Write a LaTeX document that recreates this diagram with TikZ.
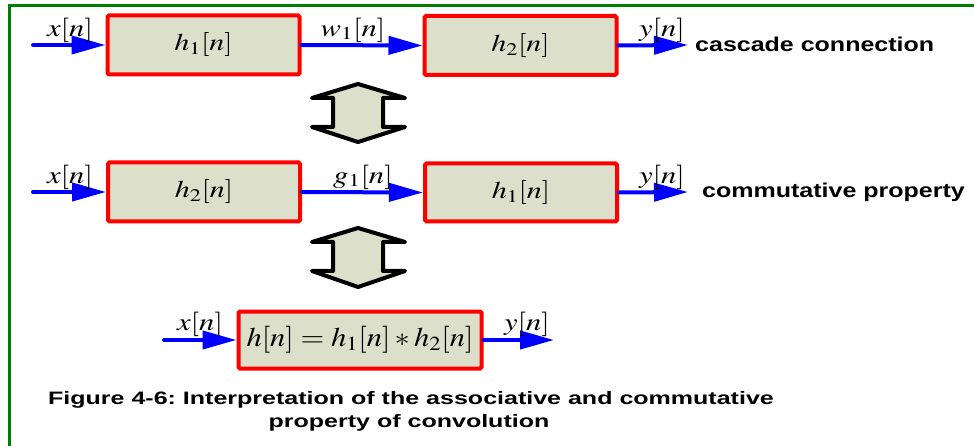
\documentclass[tikz,border=0pt]{standalone}
\usepackage{mathptmx}
\usepackage{fontspec}
\setmainfont{Liberation Serif}
\setsansfont{Liberation Sans}
\usepackage{graphicx}
\usetikzlibrary{arrows.meta}
\definecolor{boxfill}{RGB}{220,224,202}
\definecolor{frameg}{RGB}{0,128,0}
\definecolor{sigblue}{RGB}{0,0,255}
\newcommand{\sx}[1]{\scalebox{1.25}[1]{#1}}
\frenchspacing
\tikzset{
  blk/.style={draw=red, fill=boxfill, line width=4pt, rounded corners=1.5pt,
    inner sep=0pt, font=\fontsize{24}{26}\selectfont},
  sig/.style={draw=sigblue, line width=4pt, line cap=round,
    -{Triangle[length=34pt,width=18pt]}},
  lbl/.style={inner sep=0pt, font=\fontsize{24.5}{26}\selectfont},
  side/.style={inner sep=0pt, anchor=west, font=\fontsize{20}{22}\selectfont\sffamily\bfseries},
  captext/.style={inner sep=0pt, font=\fontsize{18}{20}\selectfont\sffamily\bfseries},
  dbl/.style={draw=black, fill=boxfill, line width=4pt, line join=round},
}
\begin{document}
\begin{tikzpicture}[x=1pt,y=-1pt]
\useasboundingbox (0,0) rectangle (974,446);
\fill[white] (0,0) rectangle (974,446);
% frame
\draw[frameg, line width=3pt] (9.5,446) -- (9.5,5.5) -- (974,5.5);

% row 1
\node[blk, minimum width=192pt, minimum height=59pt] (A) at (203.5,45) {\sx{$h_1[n]$}};
\node[blk, minimum width=192pt, minimum height=59pt] (B) at (520.5,45.5) {\sx{$h_2[n]$}};
\coordinate (in1) at (33,45);
\coordinate (out1) at (688,45);
\draw[sig] (in1) -- (A.west);
\draw[sig] (A.east) -- (B.west);
\draw[sig] (B.east) -- (out1);
\node[lbl] (lx1) at (70,30) {\sx{$x[n]$}};
\node[lbl] (lw1) at (353,30) {\sx{$w_1[n]$}};
\node[lbl] (ly1) at (662,30) {\sx{$y[n]$}};
\node[side] (t1) at (695,44) {\sx{cascade connection}};

% double arrow 1
\draw[dbl] (358,84) -- (405,98) -- (383,98) -- (383,127) -- (405,127) -- (358,142)
  -- (312,127) -- (333,127) -- (333,98) -- (312,98) -- cycle;

% row 2
\node[blk, minimum width=192pt, minimum height=59pt] (C) at (204,192) {\sx{$h_2[n]$}};
\node[blk, minimum width=192pt, minimum height=58pt] (D) at (521,192.5) {\sx{$h_1[n]$}};
\coordinate (in2) at (33,192);
\coordinate (out2) at (688,192);
\draw[sig] (in2) -- (C.west);
\draw[sig] (C.east) -- (D.west);
\draw[sig] (D.east) -- (out2);
\node[lbl] (lx2) at (70,177) {\sx{$x[n]$}};
\node[lbl] (lg1) at (363,177) {\sx{$g_1[n]$}};
\node[lbl] (ly2) at (662,177) {\sx{$y[n]$}};
\node[side] (t2) at (702,192) {\sx{commutative property}};

% double arrow 2
\draw[dbl] (358,228) -- (405,242) -- (383,242) -- (383,271) -- (405,271) -- (358,287)
  -- (312,271) -- (333,271) -- (333,242) -- (312,242) -- cycle;

% row 3
\node[blk, minimum width=243pt, minimum height=57pt, font=\fontsize{27}{29}\selectfont] (E) at (360,340)
  {\scalebox{1.13}[1]{$h[n]=h_1[n]*h_2[n]$}};
\coordinate (in3) at (164,340);
\coordinate (out3) at (554,340);
\draw[sig] (in3) -- (E.west);
\draw[sig] (E.east) -- (out3);
\node[lbl] (lx3) at (200,324) {\sx{$x[n]$}};
\node[lbl] (ly3) at (527,324) {\sx{$y[n]$}};

% caption
\node[captext] (cap1) at (411,400) {\scalebox{1.39}[1]{Figure 4-6: Interpretation of the associative and commutative}};
\node[captext] (cap2) at (409,423) {\scalebox{1.39}[1]{property of convolution}};
\end{tikzpicture}
\end{document}
